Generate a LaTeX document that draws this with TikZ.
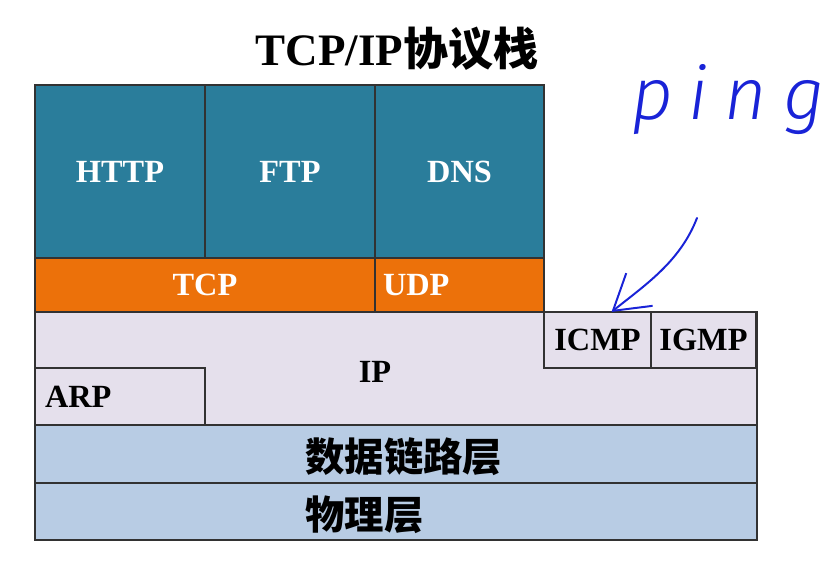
\documentclass[tikz,border=0pt]{standalone}
\usepackage{fontspec}
\setmainfont{Liberation Serif}
\newfontfamily\cjk{Noto Sans CJK SC}
\newfontfamily\handfont{Fira Sans Light Italic}
\usetikzlibrary{arrows.meta,positioning}
\definecolor{appteal}{RGB}{42,125,155}
\definecolor{tcporange}{RGB}{236,113,10}
\definecolor{iplilac}{RGB}{229,224,236}
\definecolor{linkblue}{RGB}{184,204,228}
\definecolor{linegray}{RGB}{50,50,50}
\definecolor{penblue}{RGB}{25,35,215}
\newcommand\pxu{0.025cm}
\newcommand\labfont{\fontsize{23}{26}\selectfont\bfseries}
\newcommand\cjklab{\cjk\bfseries\fontsize{28}{32}\selectfont}
\tikzset{
  box/.style      = {draw=linegray,line width=1pt,inner sep=0pt,outer sep=0pt,
                     font=\labfont},
  appbox/.style   = {box,fill=appteal,text=white,minimum height=173*\pxu},
  transbox/.style = {box,fill=tcporange,text=white,minimum height=54*\pxu},
  netbox/.style   = {box,fill=iplilac},
  linkbox/.style  = {box,fill=linkblue,minimum width=722*\pxu},
  linklab/.style  = {font=\cjklab,anchor=west,inner sep=0pt},
  pen/.style      = {draw=penblue,line width=1.4pt,line cap=round,line join=round},
}

\begin{document}
\begin{tikzpicture}[x=\pxu,y=-\pxu]
  \fill[white] (0,0) rectangle (837,563);
  \useasboundingbox (0,0) rectangle (837,563);

  \node[font=\fontsize{32}{36}\selectfont] (title) at (397,49)
        {\bfseries TCP/IP{\cjk\bfseries 协议栈}};

  % application layer
  \node[appbox,anchor=north west,minimum width=170*\pxu] (http) at (35,85) {HTTP};
  \node[appbox,right=0pt of http,minimum width=170*\pxu] (ftp) {FTP};
  \node[appbox,right=0pt of ftp,minimum width=169*\pxu] (dns) {DNS};

  % transport layer
  \node[transbox,below right=0pt of http.south west,minimum width=340*\pxu] (tcp) {TCP};
  \node[transbox,right=0pt of tcp,text width=153*\pxu,inner xsep=8*\pxu,
        align=left] (udp) {UDP};

  % network layer
  \node[netbox,below right=0pt of tcp.south west,minimum width=722*\pxu,
        minimum height=113*\pxu] (ip) {};
  \node[font=\labfont] (iplab) at (375,372) {IP};
  \node[netbox,below right=0pt of udp.south east,minimum width=107*\pxu,
        minimum height=56*\pxu] (icmp) {ICMP};
  \node[netbox,right=0pt of icmp,minimum width=105*\pxu,
        minimum height=56*\pxu] (igmp) {IGMP};
  \node[netbox,above right=0pt of ip.south west,text width=150*\pxu,
        inner xsep=10*\pxu,align=left,minimum height=57*\pxu] (arp) {ARP};

  % link + physical
  \node[linkbox,below right=0pt of ip.south west,minimum height=58*\pxu] (link) {};
  \node[linkbox,below right=0pt of link.south west,minimum height=57*\pxu] (phys) {};
  \node[linklab] (linklab) at ([xshift=270*\pxu,yshift=-2pt]link.west) {数据链路层};
  \node[linklab] (physlab) at ([xshift=270*\pxu,yshift=-2pt]phys.west) {物理层};

  % handwritten note
  \node[text=penblue,anchor=base,
        font=\handfont\addfontfeature{LetterSpace=22}\fontsize{52}{52}\selectfont]
        (ping) at (728,120) {ping};
  \coordinate (penstart) at (697,218);
  \draw[pen,-{Straight Barb[length=0.85cm,width=1.05cm]}]
        (penstart) .. controls (680,262) and (645,285) .. ([xshift=0.35cm]icmp.north);
\end{tikzpicture}
\end{document}
